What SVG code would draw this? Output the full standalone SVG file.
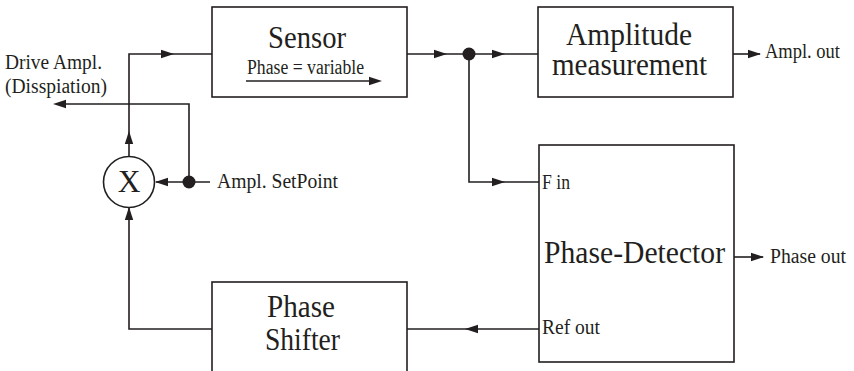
<svg xmlns="http://www.w3.org/2000/svg" xmlns:xlink="http://www.w3.org/1999/xlink" width="854" height="371" viewBox="0 0 854 371">
<style>
.box{fill:#fff;stroke:#231f20;stroke-width:1.6}
.ln{fill:none;stroke:#231f20;stroke-width:1.6}
.dot{fill:#231f20}
.big{font-family:"Liberation Serif",serif;font-size:31.5px;fill:#231f20}
.sm{font-family:"Liberation Serif",serif;font-size:20.5px;fill:#231f20}
</style>
<defs>
<path id="ah" d="M0,0 L-13,-4.2 L-13,4.2 Z" fill="#231f20"/>
</defs>
<rect width="854" height="371" fill="#fff"/>
<g id="connectors">
<path class="ln" d="M129,157 V54 H212"/>
<use xlink:href="#ah" transform="translate(129,131) rotate(-90)"/>
<use xlink:href="#ah" transform="translate(174,54)"/>
<path class="ln" d="M407,54 H538"/>
<use xlink:href="#ah" transform="translate(447,54)"/>
<use xlink:href="#ah" transform="translate(505,54)"/>
<path class="ln" d="M469,54 V182 H539"/>
<use xlink:href="#ah" transform="translate(505,182)"/>
<path class="ln" d="M733,54 H760"/>
<use xlink:href="#ah" transform="translate(761,54)"/>
<path class="ln" d="M734,257 H763"/>
<use xlink:href="#ah" transform="translate(764,257)"/>
<path class="ln" d="M539,329 H407"/>
<use xlink:href="#ah" transform="translate(465,329) rotate(180)"/>
<path class="ln" d="M212,329 H129 V208"/>
<use xlink:href="#ah" transform="translate(129,207) rotate(-90)"/>
<path class="ln" d="M210,182 H156"/>
<use xlink:href="#ah" transform="translate(155,182) rotate(180)"/>
<path class="ln" d="M189,182 V104 H60"/>
<use xlink:href="#ah" transform="translate(53,104) rotate(180)"/>
<circle class="dot" cx="469" cy="54" r="6.5"/>
<circle class="dot" cx="189" cy="182" r="6.5"/>
</g>
<g id="sensor">
<rect class="box" x="212" y="7" width="195" height="90"/>
<text class="big" x="268" y="48" textLength="78" lengthAdjust="spacingAndGlyphs">Sensor</text>
<text class="sm" x="247" y="74" font-size="19" textLength="117" lengthAdjust="spacingAndGlyphs">Phase = variable</text>
<path class="ln" d="M246,81 H370"/>
<use xlink:href="#ah" transform="translate(382,81)"/>
</g>
<g id="amplitude">
<rect class="box" x="538" y="7" width="195" height="90"/>
<text class="big" x="566" y="45" textLength="126" lengthAdjust="spacingAndGlyphs">Amplitude</text>
<text class="big" x="552" y="75" textLength="155" lengthAdjust="spacingAndGlyphs">measurement</text>
</g>
<g id="ampl-out">
<text class="sm" x="765" y="58" textLength="75" lengthAdjust="spacingAndGlyphs">Ampl. out</text>
</g>
<g id="drive">
<text class="sm" x="5" y="69" textLength="97" lengthAdjust="spacingAndGlyphs">Drive Ampl.</text>
<text class="sm" x="5" y="93" textLength="102" lengthAdjust="spacingAndGlyphs">(Disspiation)</text>
</g>
<g id="multiplier">
<circle class="box" cx="129" cy="182" r="25.5"/>
<text class="big" x="129" y="192" font-size="29" text-anchor="middle">X</text>
</g>
<g id="setpoint">
<text class="sm" x="217" y="188" textLength="121" lengthAdjust="spacingAndGlyphs">Ampl. SetPoint</text>
</g>
<g id="phase-detector">
<rect class="box" x="539" y="145" width="195" height="217"/>
<text class="sm" x="542" y="189" textLength="28" lengthAdjust="spacingAndGlyphs">F in</text>
<text class="big" x="544" y="263" textLength="181" lengthAdjust="spacingAndGlyphs">Phase-Detector</text>
<text class="sm" x="542" y="334" textLength="58" lengthAdjust="spacingAndGlyphs">Ref out</text>
</g>
<g id="phase-out">
<text class="sm" x="770" y="263" textLength="76" lengthAdjust="spacingAndGlyphs">Phase out</text>
</g>
<g id="phase-shifter">
<rect class="box" x="212" y="282" width="195" height="100"/>
<text class="big" x="267" y="317" textLength="68" lengthAdjust="spacingAndGlyphs">Phase</text>
<text class="big" x="265" y="350" textLength="75" lengthAdjust="spacingAndGlyphs">Shifter</text>
</g>
</svg>
